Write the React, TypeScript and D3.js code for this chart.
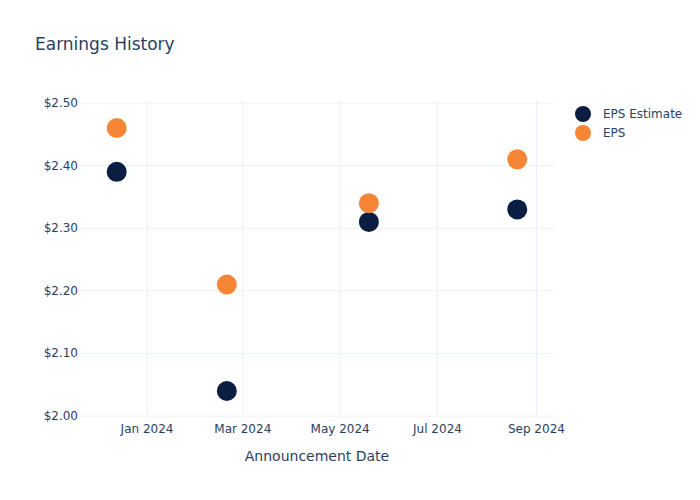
import React from "react";
import * as d3 from "d3";

const dates = ["2023-12-13", "2024-02-20", "2024-05-19", "2024-08-20"];
const epsEstimate = [2.39, 2.04, 2.31, 2.33];
const epsActual = [2.46, 2.21, 2.34, 2.41];
const yTicks = [2.0, 2.1, 2.2, 2.3, 2.4, 2.5];
const xTickDates = ["2024-01-01", "2024-03-01", "2024-05-01", "2024-07-01", "2024-09-01"];
const seriesNames = ["EPS Estimate", "EPS"];

const W = 700;
const H = 500;
const plotL = 80;
const plotR = 554;
const plotT = 100;
const plotB = 420;
const TEXT = "#2a3f5f";
const GRID = "#ebf0f8";
const NAVY = "#0b1e41";
const ORANGE = "#f68535";
const FONT = "'DejaVu Sans', Verdana, sans-serif";

const parse = d3.utcParse("%Y-%m-%d");

export default function App() {
  const x = d3
    .scaleUtc()
    .domain([parse("2023-11-20")!, parse("2024-09-12")!])
    .range([plotL, plotR]);
  const y = d3.scaleLinear().domain([2.0, 2.5]).range([416, 103]);
  const fmtMoney = (v: number) => "$" + d3.format(".2f")(v);
  const fmtDate = d3.utcFormat("%b %Y");

  return (
    <svg width={W} height={H} style={{ display: "block", position: "absolute", left: 0, top: 0 }} fontFamily={FONT}>
      <rect x={0} y={0} width={W} height={H} fill="#fff" />
      <text x={35} y={50} fontSize={17} fill={TEXT}>Earnings History</text>
      {xTickDates.map((d) => {
        const xx = x(parse(d)!);
        return (
          <g key={d}>
            <line x1={xx} x2={xx} y1={plotT} y2={plotB - 4} stroke={GRID} strokeWidth={1} />
            <text x={xx} y={433} fontSize={12} fill={TEXT} textAnchor="middle">{fmtDate(parse(d)!)}</text>
          </g>
        );
      })}
      {yTicks.map((t) => (
        <g key={t}>
          <line x1={plotL} x2={plotR} y1={y(t)} y2={y(t)} stroke={GRID} strokeWidth={1} />
          <text x={78} y={y(t) + 4} fontSize={12} fill={TEXT} textAnchor="end">{fmtMoney(t)}</text>
        </g>
      ))}
      <text x={(plotL + plotR) / 2} y={461} fontSize={14} fill={TEXT} textAnchor="middle">Announcement Date</text>
      {dates.map((d, i) => (
        <circle key={"e" + i} cx={x(parse(d)!)} cy={y(epsEstimate[i])} r={10} fill={NAVY} />
      ))}
      {dates.map((d, i) => (
        <circle key={"a" + i} cx={x(parse(d)!)} cy={y(epsActual[i])} r={10} fill={ORANGE} />
      ))}
      {seriesNames.map((n, i) => (
        <g key={n}>
          <circle cx={583} cy={114 + i * 19} r={8} fill={i === 0 ? NAVY : ORANGE} />
          <text x={603} y={118 + i * 19} fontSize={12} fill={TEXT}>{n}</text>
        </g>
      ))}
    </svg>
  );
}
